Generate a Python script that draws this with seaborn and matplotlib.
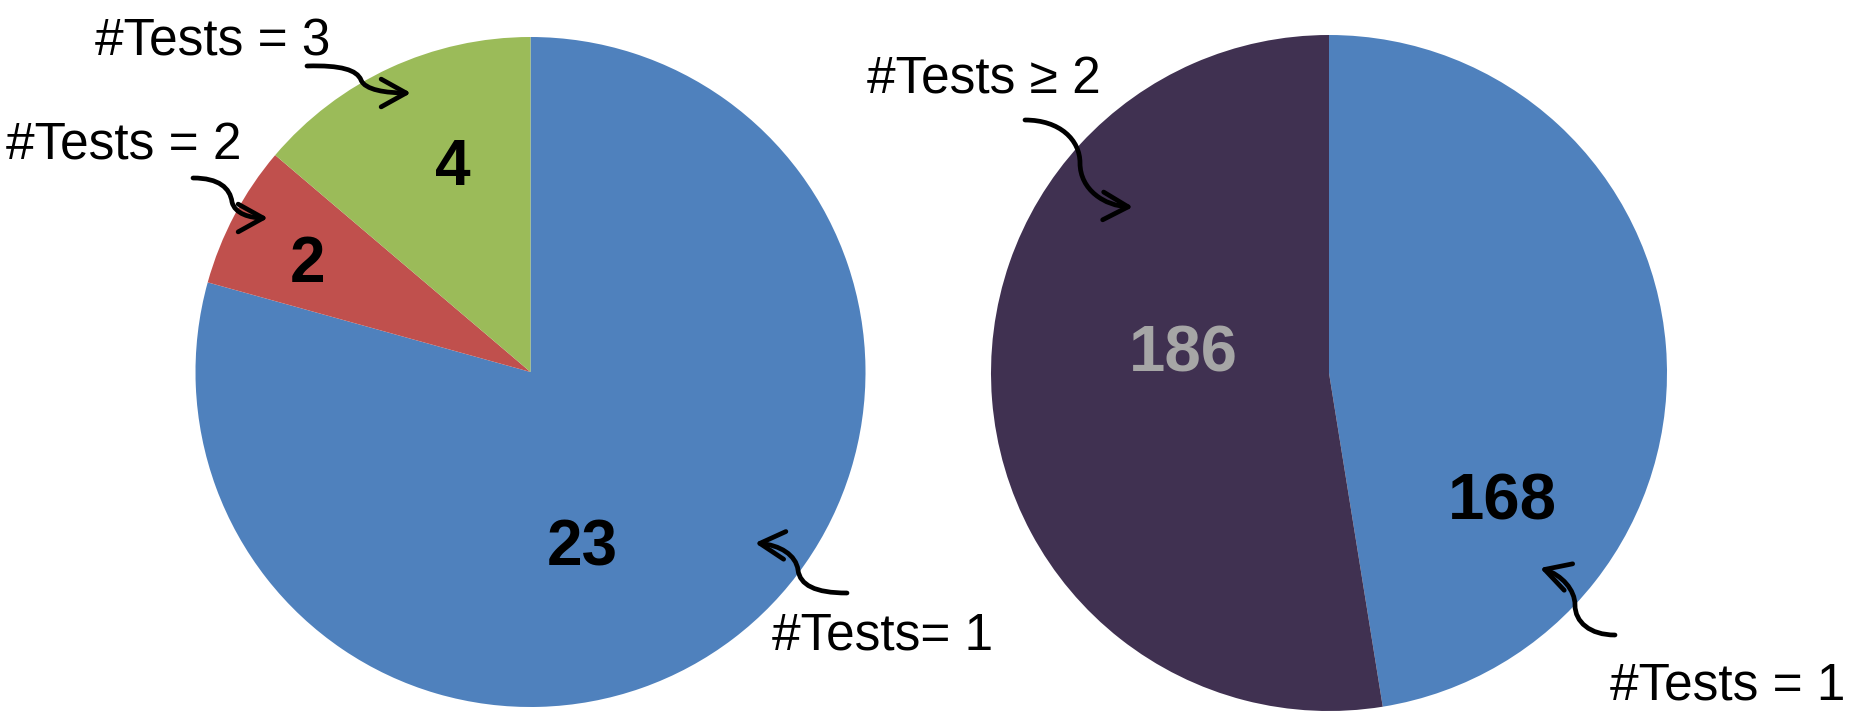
import numpy as np
import matplotlib
matplotlib.use("Agg")
import matplotlib.pyplot as plt
from matplotlib.path import Path
from matplotlib.patches import FancyArrowPatch
import seaborn as sns

sns.set_theme(style="white")
plt.rcParams["font.family"] = ["Liberation Sans", "DejaVu Sans"]

# Left pie: number of tests per item
left_counts = [23, 2, 4]
left_names = ["#Tests= 1", "#Tests = 2", "#Tests = 3"]
left_colors = ["#4F81BD", "#C0504D", "#9BBB59"]
left_label_colors = ["black", "black", "black"]

# Right pie: single test vs several tests
right_counts = [168, 186]
right_names = ["#Tests = 1", "#Tests \u2265 2"]
right_colors = ["#4F81BD", "#403151"]
right_label_colors = ["black", "#A6A6A6"]

W, H = 1863, 711
fig = plt.figure(figsize=(W / 100, H / 100), dpi=100)
fig.patch.set_facecolor("white")


def pie_axes(cx, cy, r):
    """Square axes centred at pixel (cx, cy) measured from the top-left corner."""
    return fig.add_axes([(cx - r) / W, (H - cy - r) / H, 2 * r / W, 2 * r / H])


ax_l = pie_axes(530.5, 372, 335)
ax_r = pie_axes(1329, 373, 338)
for ax, counts, colors in [(ax_l, left_counts, left_colors),
                           (ax_r, right_counts, right_colors)]:
    ax.pie(counts, colors=colors, startangle=90, counterclock=False,
           radius=1.0, wedgeprops=dict(linewidth=0))
    ax.set_xlim(-1, 1)
    ax.set_ylim(-1, 1)
    ax.set_aspect("equal")
    ax.axis("off")

# Overlay in pixel coordinates for value labels, captions and arrows
ov = fig.add_axes([0, 0, 1, 1], facecolor="none")
ov.set_xlim(0, W)
ov.set_ylim(H, 0)
ov.axis("off")

left_value_pos = [(582, 549), (307, 265), (453, 168)]
right_value_pos = [(1502, 502), (1183, 355)]
for counts, pos, cols, fs in [(left_counts, left_value_pos, left_label_colors, 46),
                              (right_counts, right_value_pos, right_label_colors, 47)]:
    for v, (x, y), c in zip(counts, pos, cols):
        ov.text(x, y, f"{v}", ha="center", va="center", fontsize=fs,
                fontweight="bold", color=c)

caption_pos_left = [(772, 649), (6, 160), (95, 55)]
caption_pos_right = [(1610, 710), (867, 93)]
caption_va_right = ["bottom", "baseline"]
for s, (x, y) in zip(left_names, caption_pos_left):
    ov.text(x, y, s, ha="left", va="baseline", fontsize=37, color="black")
for s, (x, y), va in zip(right_names, caption_pos_right, caption_va_right):
    ov.text(x, y, s, ha="left", va=va, fontsize=37, color="black")

# S-shaped pointer curves: start, first bend, middle, second bend, tip
arrow_specs = [
    [(307, 66), (341, 65), (357, 70), (361, 80), (365, 90), (386, 93), (411, 93)],
    [(193, 178), (219, 178), (230, 188), (232, 202), (235, 214), (250, 218), (268, 218)],
    [(847, 593), (815, 593), (800, 585), (798, 570), (796, 555), (780, 545), (755, 543)],
    [(1025, 120), (1060, 120), (1080, 140), (1080, 163), (1080, 190), (1105, 206), (1133, 207)],
    [(1615, 635), (1590, 635), (1575, 622), (1575, 605), (1575, 590), (1562, 575), (1540, 568)],
]
codes = [Path.MOVETO] + [Path.CURVE4] * 6
for pts in arrow_specs:
    arr = FancyArrowPatch(path=Path(pts, codes), arrowstyle="->,head_length=0.9,head_width=0.5",
                          mutation_scale=20, linewidth=3.4, color="black",
                          transform=ov.transData, capstyle="round", joinstyle="round")
    ov.add_patch(arr)

fig.savefig("out.png", dpi=100, facecolor="white")
